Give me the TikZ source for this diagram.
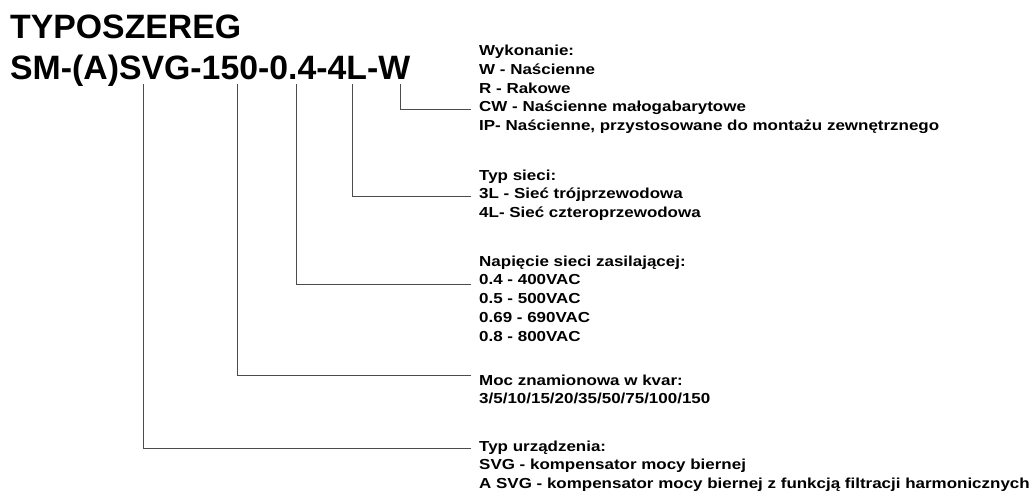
\documentclass[tikz,border=0pt]{standalone}
\usepackage{fontspec}
\setmainfont{Liberation Sans}
\newfontfamily\legendfont[FakeStretch=1.17]{Liberation Sans}
\usetikzlibrary{calc, positioning}
\tikzset{code part/.style={font=\fontsize{33.8}{40}\selectfont\bfseries, inner sep=0pt, anchor=base west}}
\tikzset{legend text/.style={font=\legendfont\fontsize{14.5}{18.7}\selectfont\bfseries, align=left, inner sep=0pt, anchor=north west}}
\tikzset{leader/.style={draw=black!70, line width=1pt}}
\newcommand{\lstrut}{\rule{0pt}{13pt}}

\begin{document}
\begin{tikzpicture}[x=1pt, y=-1pt]
\useasboundingbox (0,0) rectangle (1033,496);
\node[code part] (title) at (10,38) {TYPOSZEREG};
\node[code part] (code) at (10,79) {SM-(A)SVG-150-0.4-4L-W};
% opisy
\node[legend text] (wyk) at (479,42.5) {\lstrut Wykonanie:\\W - Naścienne\\R - Rakowe\\CW - Naścienne małogabarytowe\\IP- Naścienne, przystosowane do montażu zewnętrznego};
\node[legend text] (siec) at (479,167) {\lstrut Typ sieci:\\3L - Sieć trójprzewodowa\\4L- Sieć czteroprzewodowa};
\node[legend text] (nap) at (479,253) {\lstrut Napięcie sieci zasilającej:\\0.4 - 400VAC\\0.5 - 500VAC\\0.69 - 690VAC\\0.8 - 800VAC};
\node[legend text] (moc) at (479,372) {\lstrut Moc znamionowa w kvar:\\3/5/10/15/20/35/50/75/100/150};
\node[legend text] (typ) at (479,438) {\lstrut Typ urządzenia:\\SVG - kompensator mocy biernej\\A SVG - kompensator mocy biernej z funkcją filtracji harmonicznych};
% odnosniki
\coordinate (cW) at (400,84);
\coordinate (c4L) at (352,84);
\coordinate (c04) at (296,84);
\coordinate (c150) at (237,84);
\coordinate (cSVG) at (143,84);
\coordinate (wyk in) at (471,109);
\coordinate (siec in) at (471,196);
\coordinate (nap in) at (471,284);
\coordinate (moc in) at (471,375);
\coordinate (typ in) at (471,448);
\draw[leader] (cW) |- (wyk in);
\draw[leader] (c4L) |- (siec in);
\draw[leader] (c04) |- (nap in);
\draw[leader] (c150) |- (moc in);
\draw[leader] (cSVG) |- (typ in);
\end{tikzpicture}
\end{document}
